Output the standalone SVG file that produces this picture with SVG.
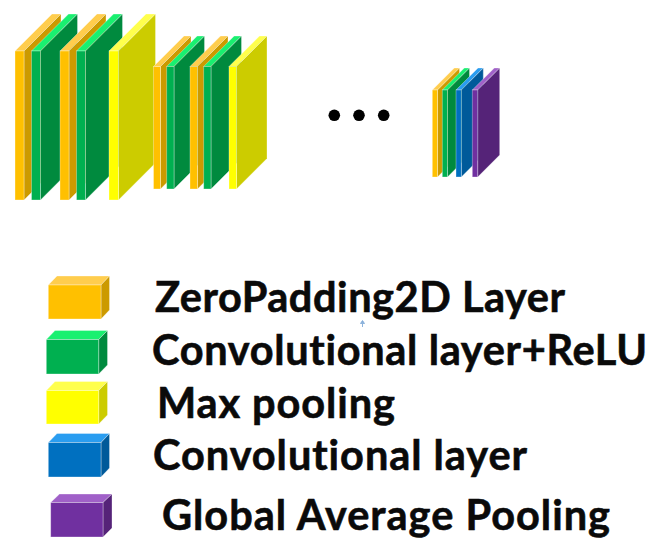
<svg xmlns="http://www.w3.org/2000/svg" width="653" height="540" viewBox="0 0 653 540">
<style>
.o .f{fill:#ffc000}.o .t{fill:#ffcd4d}.o .s{fill:#cc9a00}
.g .f{fill:#00b050}.g .t{fill:#19f070}.g .s{fill:#008a3e}
.y .f{fill:#ffff00}.y .t{fill:#ffff4d}.y .s{fill:#cccc00}
.b .f{fill:#0070c0}.b .t{fill:#2a9df0}.b .s{fill:#005a9a}
.p .f{fill:#7030a0}.p .t{fill:#a060c8}.p .s{fill:#552378}
.e{stroke:#fff;stroke-opacity:.4;stroke-width:.8}
text{font-family:Lato,"Liberation Sans",sans-serif;font-weight:700;font-size:41.5px;fill:#0a0a0a;stroke:#0a0a0a;stroke-width:.6;font-variant-ligatures:none}
</style>
<rect width="653" height="540" fill="#fff"/>
<g id="stack-1">
<g class="o"><polygon class="t e" points="15,51 24,51 61,14 52,14"/><polygon class="s e" points="24,51 61,14 61,163 24,200"/><rect class="f e" x="15" y="51" width="9" height="149"/></g>
<g class="g"><polygon class="t e" points="31.5,51 40.5,51 77.5,14 68.5,14"/><polygon class="s e" points="40.5,51 77.5,14 77.5,163 40.5,200"/><rect class="f e" x="31.5" y="51" width="9" height="149"/></g>
<g class="o"><polygon class="t e" points="60,51 69,51 106,14 97,14"/><polygon class="s e" points="69,51 106,14 106,163 69,200"/><rect class="f e" x="60" y="51" width="9" height="149"/></g>
<g class="g"><polygon class="t e" points="76.5,51 85.5,51 122.5,14 113.5,14"/><polygon class="s e" points="85.5,51 122.5,14 122.5,163 85.5,200"/><rect class="f e" x="76.5" y="51" width="9" height="149"/></g>
<g class="y"><polygon class="t e" points="109,51 118.5,51 155.5,14 146,14"/><polygon class="s e" points="118.5,51 155.5,14 155.5,163 118.5,200"/><rect class="f e" x="109" y="51" width="9.5" height="149"/></g>
</g>
<g id="stack-2">
<g class="o"><polygon class="t e" points="153.5,66.5 160.5,66.5 191,36 184,36"/><polygon class="s e" points="160.5,66.5 191,36 191,158.500 160.5,189"/><rect class="f e" x="153.5" y="66.5" width="7" height="122.5"/></g>
<g class="g"><polygon class="t e" points="166.7,66.5 174,66.5 204.500,36 197.200,36"/><polygon class="s e" points="174,66.5 204.500,36 204.500,158.500 174,189"/><rect class="f e" x="166.7" y="66.5" width="7.300" height="122.5"/></g>
<g class="o"><polygon class="t e" points="190,66.5 197.500,66.5 228,36 220.500,36"/><polygon class="s e" points="197.500,66.5 228,36 228,158.500 197.500,189"/><rect class="f e" x="190" y="66.5" width="7.500" height="122.5"/></g>
<g class="g"><polygon class="t e" points="203.700,66.5 211,66.5 241.500,36 234.200,36"/><polygon class="s e" points="211,66.5 241.500,36 241.500,158.500 211,189"/><rect class="f e" x="203.700" y="66.5" width="7.300" height="122.5"/></g>
<g class="y"><polygon class="t e" points="229,66.5 236.500,66.5 267,36 259.500,36"/><polygon class="s e" points="236.500,66.5 267,36 267,158.500 236.500,189"/><rect class="f e" x="229" y="66.5" width="7.500" height="122.5"/></g>
</g>
<g id="ellipsis"><circle cx="334.300" cy="115.300" r="5.800" fill="#000"/><circle cx="359" cy="115.300" r="5.800" fill="#000"/><circle cx="383.700" cy="115.300" r="5.800" fill="#000"/></g>
<g id="stack-3">
<g class="o"><polygon class="t e" points="432.300,90 437.500,90 459.500,68 454.300,68"/><polygon class="s e" points="437.500,90 459.500,68 459.500,155 437.500,177"/><rect class="f e" x="432.300" y="90" width="5.200" height="87"/></g>
<g class="g"><polygon class="t e" points="442.300,90 447.500,90 469.500,68 464.300,68"/><polygon class="s e" points="447.500,90 469.500,68 469.500,155 447.500,177"/><rect class="f e" x="442.300" y="90" width="5.200" height="87"/></g>
<g class="b"><polygon class="t e" points="456,90 461.300,90 483.300,68 478,68"/><polygon class="s e" points="461.300,90 483.300,68 483.300,155 461.300,177"/><rect class="f e" x="456" y="90" width="5.300" height="87"/></g>
<g class="p"><polygon class="t e" points="472.300,90 477.700,90 499.700,68 494.300,68"/><polygon class="s e" points="477.700,90 499.700,68 499.700,155 477.700,177"/><rect class="f e" x="472.300" y="90" width="5.400" height="87"/></g>
</g>
<g id="legend-zeropadding" class="o"><polygon class="t e" points="48.300,285 57,276 109.500,276 101,285"/><polygon class="s e" points="101,285 109.500,276 109.500,310 101,319"/><rect class="f e" x="48.300" y="285" width="52.700" height="34"/><text x="155" y="311.500" textLength="410">ZeroPadding2D Layer</text></g>
<g id="legend-conv-relu" class="g"><polygon class="t e" points="46.300,339.500 55,330.500 107.500,330.500 98.700,339.500"/><polygon class="s e" points="98.700,339.500 107.500,330.500 107.500,365 98.700,374"/><rect class="f e" x="46.300" y="339.500" width="52.400" height="34.500"/><text x="152" y="364.500" textLength="495">Convolutional layer+ReLU</text></g>
<g id="legend-maxpool" class="y"><polygon class="t e" points="46.300,390.500 55,381.500 107.500,381.500 98.700,390.500"/><polygon class="s e" points="98.700,390.500 107.500,381.500 107.500,415 98.700,424"/><rect class="f e" x="46.300" y="390.500" width="52.400" height="33.500"/><text x="157" y="417.500" textLength="238">Max pooling</text></g>
<g id="legend-conv" class="b"><polygon class="t e" points="48.300,442.500 57,433.500 109.500,433.500 101,442.500"/><polygon class="s e" points="101,442.500 109.500,433.500 109.500,468 101,477"/><rect class="f e" x="48.300" y="442.500" width="52.700" height="34.500"/><text x="153" y="469.500" textLength="374">Convolutional layer</text></g>
<g id="legend-gap" class="p"><polygon class="t e" points="50.700,502.500 59.500,494 112,494 103,502.500"/><polygon class="s e" points="103,502.500 112,494 112,528 103,537"/><rect class="f e" x="50.700" y="502.500" width="52.300" height="34.500"/><text x="162" y="530" textLength="448">Global Average Pooling</text></g>
<path id="mark" d="M362.500 327V322M360.500 323.500L362.500 320.500L364.500 323.500Z" stroke="#8fb4dc" fill="#6f9fd6" stroke-width="1"/>
</svg>
